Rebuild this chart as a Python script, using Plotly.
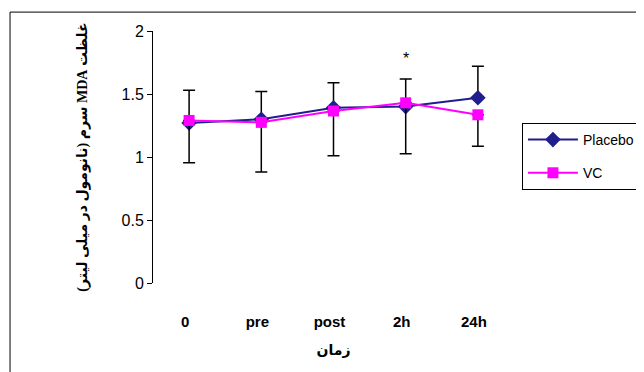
import plotly.graph_objects as go

categories = ["0", "pre", "post", "2h", "24h"]
placebo = [1.27, 1.30, 1.39, 1.40, 1.47]
vc = [1.29, 1.275, 1.365, 1.43, 1.335]
placebo_err_up = [0.26, 0.22, 0.20, 0.22, 0.25]
vc_err_down = [0.335, 0.395, 0.355, 0.405, 0.25]
y_ticks = [0, 0.5, 1, 1.5, 2]
y_tick_text = ["0", "0.5", "1", "1.5", "2"]
y_title = "\u202bغلظت MDA سرم (نانومول در میلی لیتر)\u202c"

fig = go.Figure()
fig.add_trace(go.Scatter(
    x=categories, y=placebo, name="Placebo", mode="lines+markers",
    line=dict(color="#1f1f8c", width=2),
    marker=dict(symbol="diamond", size=12, color="#1f1f8c"),
    error_y=dict(type="data", symmetric=False, array=placebo_err_up,
                 arrayminus=[0] * len(placebo), color="black", thickness=1.5, width=6),
    legendgroup="a",
))
fig.add_trace(go.Scatter(
    x=categories, y=vc, name="VC", mode="lines+markers",
    line=dict(color="#ff00ff", width=2),
    marker=dict(symbol="square", size=11, color="#ff00ff"),
    error_y=dict(type="data", symmetric=False, array=[0] * len(vc),
                 arrayminus=vc_err_down, color="black", thickness=1.5, width=6),
    legendgroup="b",
))

fig.add_annotation(x="2h", y=1.78, text="*", showarrow=False,
                   font=dict(size=16, color="black", family="Liberation Sans"))

fig.add_shape(type="rect", xref="paper", yref="paper",
              x0=-0.396, x1=1.6, y0=-0.6, y1=1.075,
              line=dict(color="black", width=1), fillcolor="rgba(0,0,0,0)")

fig.update_layout(
    width=644, height=372,
    margin=dict(l=145, r=138, t=23, b=97, autoexpand=False),
    paper_bgcolor="white", plot_bgcolor="white",
    showlegend=True,
    legend=dict(x=1.022, y=0.635, xanchor="left", yanchor="top",
                bordercolor="black", borderwidth=1, itemwidth=50,
                font=dict(size=14, family="Liberation Sans", color="black"),
                tracegroupgap=12, bgcolor="white"),
    xaxis=dict(type="category", range=[-0.5, 4.5], showline=False, showgrid=False,
               zeroline=False, ticks="", ticklabelstandoff=28, ticklabelshift=-4,
               automargin=False,
               tickfont=dict(size=15, family="Liberation Sans", color="black", weight="bold"),
               title=dict(text="زمان", standoff=16,
                          font=dict(size=14, family="DejaVu Sans", color="black", weight="bold"))),
    yaxis=dict(range=[0, 2], tickvals=y_ticks, ticktext=y_tick_text,
               showline=True, linecolor="black", linewidth=1, ticks="outside",
               ticklen=5, tickcolor="black", showgrid=False, zeroline=False,
               automargin=False,
               tickfont=dict(size=16, family="Liberation Sans", color="black"),
               title=dict(text=y_title, standoff=30,
                          font=dict(size=14, family="Liberation Serif, DejaVu Sans",
                                    color="black", weight="bold"))),
)

fig.write_html("out.html")
